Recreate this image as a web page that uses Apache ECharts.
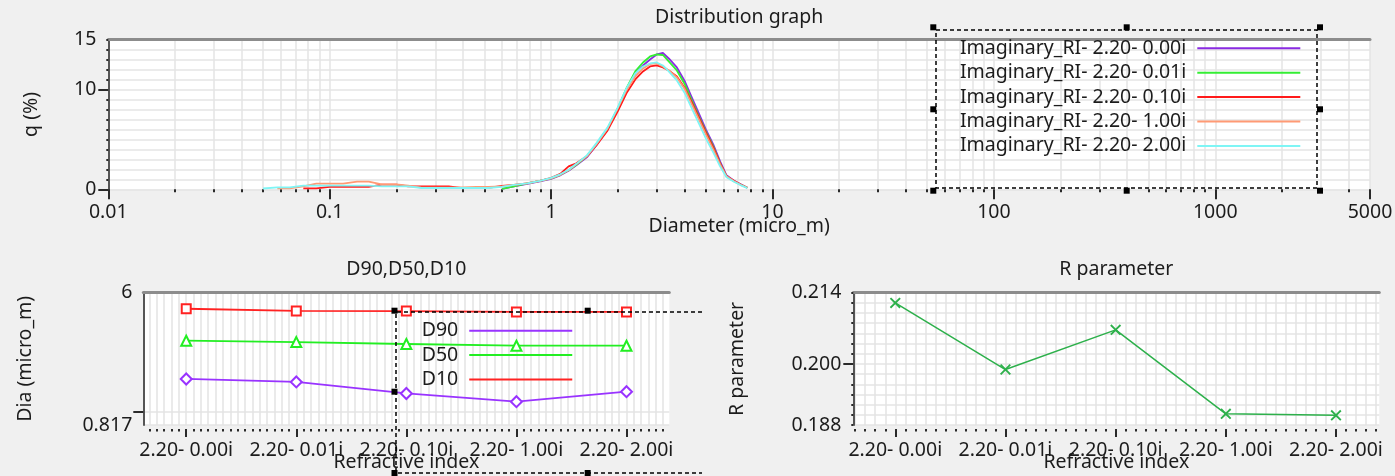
<!DOCTYPE html>
<html>
<head>
<meta charset="utf-8">
<title>Distribution graph</title>
<script src="https://cdn.jsdelivr.net/npm/echarts@6/dist/echarts.min.js"></script>
<style>
  html, body { margin: 0; padding: 0; background: #f0f0f0; }
  #chart { width: 1395px; height: 476px; }
</style>
</head>
<body>
<div id="chart"></div>
<script>
// ---- data ----
const diameters = [0.05, 0.058, 0.066, 0.076, 0.087, 0.1, 0.115, 0.133, 0.15, 0.172,
  0.2, 0.226, 0.26, 0.3, 0.345, 0.4, 0.46, 0.52, 0.6, 0.68,
  0.78, 0.89, 1.0, 1.1, 1.2, 1.3, 1.45, 1.6, 1.8, 2.0,
  2.2, 2.4, 2.6, 2.8, 3.0, 3.2, 3.4, 3.7, 4.0, 4.3,
  4.65, 5.0, 5.4, 5.8, 6.2, 6.7, 7.2, 7.7]

const q000 = [null, null, null, null, null, null, null, null, null, null,
  null, null, null, null, null, null, null, null, 0.05, 0.3,
  0.55, 0.8, 1.05, 1.4, 1.85, 2.4, 3.2, 4.4, 6.0, 8.0,
  10.1, 11.6, 12.4, 13.0, 13.5, 13.65, 13.1, 12.2, 10.9, 9.3,
  7.6, 6.0, 4.5, 2.8, 1.4, 0.85, 0.5, 0.15]
const q001 = [null, null, null, null, null, null, null, null, null, null,
  null, null, null, null, null, null, null, null, 0.05, 0.3,
  0.6, 0.85, 1.1, 1.45, 1.9, 2.45, 3.3, 4.5, 6.1, 8.1,
  10.2, 11.8, 12.7, 13.3, 13.5, 13.45, 12.8, 11.9, 10.6, 9.0,
  7.3, 5.8, 4.3, 2.6, 1.3, 0.8, 0.45, 0.15]
const q010 = [null, null, null, 0.1, 0.1, 0.25, 0.25, 0.25, 0.25, 0.47,
  0.47, 0.3, 0.3, 0.3, 0.3, 0.12, 0.12, 0.15, 0.35, 0.45,
  0.6, 0.85, 1.15, 1.55, 2.3, 2.6, 3.3, 4.4, 5.9, 7.8,
  9.7, 11.0, 11.8, 12.3, 12.4, 12.2, 11.9, 11.3, 10.2, 8.8,
  7.2, 5.7, 4.2, 2.6, 1.3, 0.85, 0.45, 0.15]
const q100 = [null, 0.1, 0.1, 0.3, 0.56, 0.56, 0.56, 0.77, 0.77, 0.5,
  0.5, 0.37, 0.17, 0.17, 0.17, 0.2, 0.23, 0.23, 0.3, 0.45,
  0.6, 0.85, 1.1, 1.45, 1.9, 2.5, 3.3, 4.5, 6.1, 8.1,
  10.0, 11.3, 12.1, 12.55, 12.6, 12.3, 11.9, 11.2, 10.1, 8.6,
  7.0, 5.5, 4.0, 2.5, 1.3, 0.8, 0.45, 0.15]
const q200 = [0.08, 0.2, 0.2, 0.37, 0.37, 0.37, 0.37, 0.37, 0.37, 0.3,
  0.3, 0.3, 0.13, 0.13, 0.13, 0.13, 0.13, 0.13, 0.25, 0.45,
  0.6, 0.85, 1.15, 1.5, 1.95, 2.55, 3.4, 4.6, 6.2, 8.2,
  10.2, 11.6, 12.3, 12.6, 12.7, 12.4, 11.8, 10.9, 9.7, 8.2,
  6.6, 5.1, 3.7, 2.3, 1.2, 0.75, 0.4, 0.12]

const distNames = ['Imaginary_RI- 2.20- 0.00i', 'Imaginary_RI- 2.20- 0.01i', 'Imaginary_RI- 2.20- 0.10i',
  'Imaginary_RI- 2.20- 1.00i', 'Imaginary_RI- 2.20- 2.00i']

const refIndex = ['2.20- 0.00i', '2.20- 0.01i', '2.20- 0.10i', '2.20- 1.00i', '2.20- 2.00i']
const d90 = [1.635, 1.563, 1.314, 1.161, 1.35]
const d50 = [2.91, 2.85, 2.77, 2.70, 2.70]
const d10 = [4.71, 4.56, 4.55, 4.49, 4.49]
const rParam = [0.2120, 0.1989, 0.2067, 0.1902, 0.1899]

const qTicks = [0, 10, 15]
const rTicks = [0.188, 0.200, 0.214]

// ---- styling ----
const FONT = 'Noto Sans'
const FS = 19.5
const TXT = '#1c1c1c'
const GRIDLINE = '#e4e4e4'
const TICK = '#2a2a2a'
const distColors = ['#8a2be2', '#33ee33', '#ff1a1a', '#ff9a74', '#7ff5f5']
const txt = (extra) => Object.assign({ fontFamily: FONT, fontSize: FS, color: TXT }, extra || {})

// minor gridlines of the log axis at 1..9 x 10^k (in log10 units)
const logMax = Math.log10(5000)
const logGrid = []
for (let k = -2; k <= 3; k++) {
  for (let m = 1; m <= 9; m++) {
    const v = Math.log10(m) + k
    if (v <= logMax + 1e-9) logGrid.push(v)
  }
}

const chart = echarts.init(document.getElementById('chart'))

const fmtLog = v => (v >= 1 ? String(Math.round(v)) : String(+v.toPrecision(3)))

const titleAxis = (gridIndex, name, gap) => ({
  type: 'value', gridIndex, min: 0, max: 1, position: 'top',
  axisLine: { show: true, onZero: false, lineStyle: { color: '#8c8c8c', width: 3 } },
  axisTick: { show: false }, axisLabel: { show: false }, splitLine: { show: false },
  name, nameLocation: 'middle', nameGap: gap, nameTextStyle: txt(), nameMoveOverlap: false
})

const catAxis = (gridIndex, min, max, minorSplit) => ({
  type: 'value', gridIndex, min, max, position: 'bottom', offset: 4,
  axisLine: { show: false, onZero: false },
  axisTick: { show: true, customValues: [0, 1, 2, 3, 4], length: 8, lineStyle: { color: TICK, width: 2 } },
  axisLabel: {
    customValues: [0, 1, 2, 3, 4], margin: 11,
    formatter: v => refIndex[Math.round(v)] || '',
    fontFamily: FONT, fontSize: FS, color: TXT
  },
  splitLine: { show: true, lineStyle: { color: GRIDLINE, width: 1.5 } },
  minorTick: { show: true, splitNumber: minorSplit, length: 2.5, lineStyle: { color: TICK, width: 2 } },
  minorSplitLine: { show: true, lineStyle: { color: GRIDLINE, width: 1.5 } },
  name: 'Refractive index', nameLocation: 'middle', nameGap: 23,
  nameTextStyle: txt(), nameMoveOverlap: false
})

const lineSeries = (name, xs, ys, color, xi, yi, extra) => Object.assign({
  name, type: 'line', xAxisIndex: xi, yAxisIndex: yi,
  data: xs.map((x, i) => [x, ys[i]]),
  lineStyle: { color, width: 1.8 }, itemStyle: { color },
  symbol: 'none', showSymbol: false, silent: true, animation: false
}, extra || {})

const handle = (x, y) => ({
  type: 'rect', z: 100, silent: true,
  shape: { x: x - 3, y: y - 3, width: 6, height: 6 }, style: { fill: '#000' }
})
const dash = { stroke: '#000', lineWidth: 1.5, lineDash: [4, 3], fill: null }

const option = {
  backgroundColor: '#f0f0f0',
  animation: false,
  textStyle: { fontFamily: FONT },
  grid: [
    { left: 108.3, top: 39.5, width: 1261.7, height: 149.8, show: true, backgroundColor: '#fff', borderWidth: 0, outerBoundsMode: 'none', containLabel: false },
    { left: 143.3, top: 292.7, width: 526, height: 132.3, show: true, backgroundColor: '#fff', borderWidth: 0, outerBoundsMode: 'none', containLabel: false },
    { left: 853.3, top: 292.7, width: 526, height: 132.3, show: true, backgroundColor: '#fff', borderWidth: 0, outerBoundsMode: 'none', containLabel: false }
  ],
  legend: [
    {
      data: distNames, orient: 'vertical', left: 960, top: 37.8, padding: 0,
      align: 'right', icon: 'rect', itemWidth: 103, itemHeight: 2, itemGap: 3.4,
      selectedMode: false, textStyle: txt({ lineHeight: 21, padding: [0, 6, 0, 0] })
    },
    {
      data: ['D90', 'D50', 'D10'], orient: 'vertical', left: 421.7, top: 320.2, padding: 0,
      align: 'right', icon: 'rect', itemWidth: 103, itemHeight: 2, itemGap: 3.4,
      selectedMode: false, textStyle: txt({ lineHeight: 21, padding: [0, 6, 0, 0] })
    }
  ],
  xAxis: [
    { // 0: diameter, log
      type: 'log', gridIndex: 0, min: 0.01, max: 5000, position: 'bottom',
      axisLine: { show: false, onZero: false },
      axisTick: { show: true, length: 10, lineStyle: { color: TICK, width: 2 } },
      axisLabel: { formatter: fmtLog, margin: 13, fontFamily: FONT, fontSize: FS, color: TXT },
      splitLine: { show: false },
      name: 'Diameter (micro_m)', nameLocation: 'middle', nameGap: 27,
      nameTextStyle: txt(), nameMoveOverlap: false
    },
    { // 1: log gridlines / minor ticks in log10 units
      type: 'value', gridIndex: 0, min: -2, max: logMax, position: 'bottom',
      axisLine: { show: false, onZero: false },
      axisTick: { show: true, customValues: logGrid, length: 3, lineStyle: { color: TICK, width: 2 } },
      axisLabel: { show: false },
      splitLine: { show: true, lineStyle: { color: GRIDLINE, width: 1.5 } }
    },
    titleAxis(0, 'Distribution graph', 12),
    catAxis(1, -0.39, 4.389, 15),
    titleAxis(1, 'D90,D50,D10', 13),
    catAxis(2, -0.381, 4.393, 11),
    titleAxis(2, 'R parameter', 13)
  ],
  yAxis: [
    { // 0: q (%)
      type: 'value', gridIndex: 0, min: 0, max: 15, interval: 1, position: 'left',
      axisLine: { show: true, onZero: false, lineStyle: { color: '#555', width: 2 } },
      axisTick: { show: true, length: 2, lineStyle: { color: TICK, width: 2 } },
      axisLabel: {
        margin: 12, fontFamily: FONT, fontSize: FS, color: TXT,
        formatter: v => (qTicks.indexOf(v) >= 0 ? String(v) : '')
      },
      splitLine: { show: true, lineStyle: { color: GRIDLINE, width: 1.5 } },
      name: 'q (%)', nameLocation: 'middle', nameGap: 67, nameTextStyle: txt(), nameMoveOverlap: false
    },
    { // 1: long ticks
      type: 'value', gridIndex: 0, min: 0, max: 15, position: 'left',
      axisLine: { show: false, onZero: false },
      axisTick: { show: true, customValues: [0, 10], length: 10, lineStyle: { color: TICK, width: 2 } },
      axisLabel: { show: false }, splitLine: { show: false }
    },
    { // 2: Dia (micro_m), log
      type: 'log', gridIndex: 1, min: 0.817, max: 6, position: 'left',
      axisLine: { show: true, onZero: false, lineStyle: { color: '#555', width: 2 } },
      axisTick: { show: false },
      axisLabel: {
        margin: 11, fontFamily: FONT, fontSize: FS, color: TXT,
        formatter: v => (Math.abs(v - 6) < 1e-6 ? '6' : (Math.abs(v - 0.817) < 1e-6 ? '0.817' : ''))
      },
      splitLine: { show: true, lineStyle: { color: GRIDLINE, width: 1.5 } },
      name: 'Dia (micro_m)', nameLocation: 'middle', nameGap: 108, nameTextStyle: txt(), nameMoveOverlap: false
    },
    { // 3: R parameter
      type: 'value', gridIndex: 2, min: 0.188, max: 0.214, interval: 0.002, position: 'left',
      axisLine: { show: true, onZero: false, lineStyle: { color: '#555', width: 2 } },
      axisTick: { show: true, length: 2, lineStyle: { color: TICK, width: 2 } },
      axisLabel: {
        margin: 12, fontFamily: FONT, fontSize: FS, color: TXT,
        formatter: v => (rTicks.some(t => Math.abs(v - t) < 1e-6) ? v.toFixed(3) : '')
      },
      splitLine: { show: true, lineStyle: { color: GRIDLINE, width: 1.5 } },
      name: 'R parameter', nameLocation: 'middle', nameGap: 106, nameTextStyle: txt(), nameMoveOverlap: false
    },
    { // 4: long tick at 0.200
      type: 'value', gridIndex: 2, min: 0.188, max: 0.214, position: 'left',
      axisLine: { show: false, onZero: false },
      axisTick: { show: true, customValues: [0.2], length: 10, lineStyle: { color: TICK, width: 2 } },
      axisLabel: { show: false }, splitLine: { show: false }
    },
    { // 5: long tick at 1 on the Dia log axis (log10 units)
      type: 'value', gridIndex: 1, min: Math.log10(0.817), max: Math.log10(6), position: 'left',
      axisLine: { show: false, onZero: false },
      axisTick: { show: true, customValues: [0], length: 10, lineStyle: { color: TICK, width: 2 } },
      axisLabel: { show: false }, splitLine: { show: false }
    }
  ],
  series: [
    lineSeries(distNames[0], diameters, q000, distColors[0], 0, 0),
    lineSeries(distNames[1], diameters, q001, distColors[1], 0, 0),
    lineSeries(distNames[2], diameters, q010, distColors[2], 0, 0),
    lineSeries(distNames[3], diameters, q100, distColors[3], 0, 0),
    lineSeries(distNames[4], diameters, q200, distColors[4], 0, 0),

    lineSeries('D90', [0, 1, 2, 3, 4], d90, '#9933ff', 3, 2,
      { symbol: 'emptyDiamond', showSymbol: true, symbolSize: 11, itemStyle: { color: '#9933ff', borderWidth: 1.5 } }),
    lineSeries('D50', [0, 1, 2, 3, 4], d50, '#22ee22', 3, 2,
      { symbol: 'emptyTriangle', showSymbol: true, symbolSize: 10, itemStyle: { color: '#22ee22', borderWidth: 1.5 } }),
    lineSeries('D10', [0, 1, 2, 3, 4], d10, '#ff2222', 3, 2,
      { symbol: 'emptyRect', showSymbol: true, symbolSize: 9, itemStyle: { color: '#ff2222', borderWidth: 1.5 } }),

    lineSeries('R parameter', [0, 1, 2, 3, 4], rParam, '#2db04b', 5, 3, {
      symbol: 'path://M0,1.2L1.2,0L5,3.8L8.8,0L10,1.2L6.2,5L10,8.8L8.8,10L5,6.2L1.2,10L0,8.8L3.8,5Z',
      showSymbol: true, symbolSize: 11, lineStyle: { color: '#2db04b', width: 1.5 }, itemStyle: { color: '#2db04b' }
    })
  ],
  graphic: [
    { type: 'rect', z: 100, silent: true, shape: { x: 936, y: 30, width: 381, height: 158 }, style: dash },
    handle(933.3, 27.3), handle(1126.7, 27.3), handle(1320, 27.3),
    handle(933.3, 109.3), handle(1320, 109.3),
    handle(933.3, 190.7), handle(1126.7, 190.7), handle(1320, 190.7),
    { type: 'polyline', z: 100, silent: true, shape: { points: [[702, 312], [396, 312], [396, 473], [702, 473]] }, style: dash },
    handle(394.5, 310.7), handle(587.7, 310.7), handle(394.5, 391.7),
    handle(394.5, 473), handle(587.7, 473)
  ]
}

chart.setOption(option)
</script>
</body>
</html>
